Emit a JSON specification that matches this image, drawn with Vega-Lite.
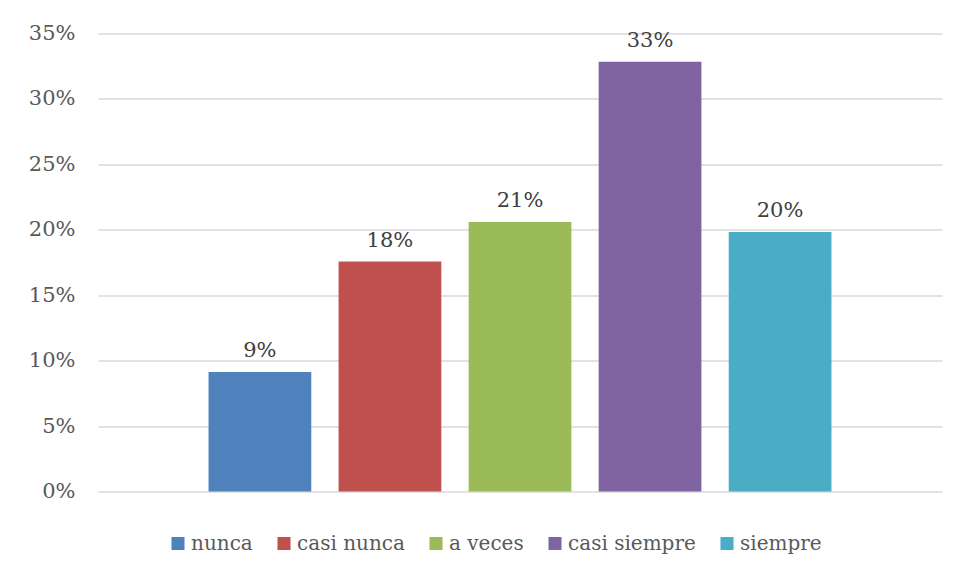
{
  "$schema": "https://vega.github.io/schema/vega-lite/v6.json",
  "width": 844,
  "height": 458,
  "autosize": {"type": "none"},
  "padding": {"left": 98, "top": 33.5, "right": 17, "bottom": 83.5},
  "background": "white",
  "config": {
    "font": "DejaVu Serif",
    "view": {"stroke": null}
  },
  "data": {
    "values": [
      {"cat": "nunca", "value": 0.0913},
      {"cat": "casi nunca", "value": 0.1757},
      {"cat": "a veces", "value": 0.2060},
      {"cat": "casi siempre", "value": 0.3285},
      {"cat": "siempre", "value": 0.1984}
    ]
  },
  "encoding": {
    "x": {
      "field": "cat",
      "type": "nominal",
      "sort": ["nunca", "casi nunca", "a veces", "casi siempre", "siempre"],
      "axis": null,
      "scale": {"paddingInner": 0.21, "paddingOuter": 0.85}
    },
    "y": {
      "field": "value",
      "type": "quantitative",
      "scale": {"domain": [0, 0.35], "nice": false},
      "axis": {
        "title": null,
        "format": ".0%",
        "values": [0, 0.05, 0.1, 0.15, 0.2, 0.25, 0.3, 0.35],
        "domain": false,
        "ticks": false,
        "tickSize": 0,
        "labelPadding": 23,
        "labelFont": "DejaVu Serif",
        "labelFontSize": 21,
        "labelColor": "#595959",
        "gridColor": "#d9d9d9",
        "gridWidth": 1.3
      }
    }
  },
  "layer": [
    {
      "mark": {"type": "bar"},
      "encoding": {
        "color": {
          "field": "cat",
          "type": "nominal",
          "sort": ["nunca", "casi nunca", "a veces", "casi siempre", "siempre"],
          "scale": {
            "domain": ["nunca", "casi nunca", "a veces", "casi siempre", "siempre"],
            "range": ["#4f81bd", "#c0504d", "#9bbb59", "#8064a2", "#4bacc6"]
          },
          "legend": {
            "title": null,
            "orient": "none",
            "direction": "horizontal",
            "legendX": 70,
            "legendY": 500,
            "padding": 0,
            "symbolType": "square",
            "symbolSize": 170,
            "symbolStrokeWidth": 0,
            "labelOffset": 3,
            "columnPadding": 21,
            "labelFont": "DejaVu Serif",
            "labelFontSize": 20,
            "labelColor": "#595959",
            "labelLimit": 300
          }
        }
      }
    },
    {
      "mark": {
        "type": "text",
        "baseline": "alphabetic",
        "dy": -15,
        "font": "DejaVu Serif",
        "fontSize": 21,
        "color": "#404040"
      },
      "encoding": {
        "text": {"field": "value", "type": "quantitative", "format": ".0%"}
      }
    }
  ]
}
